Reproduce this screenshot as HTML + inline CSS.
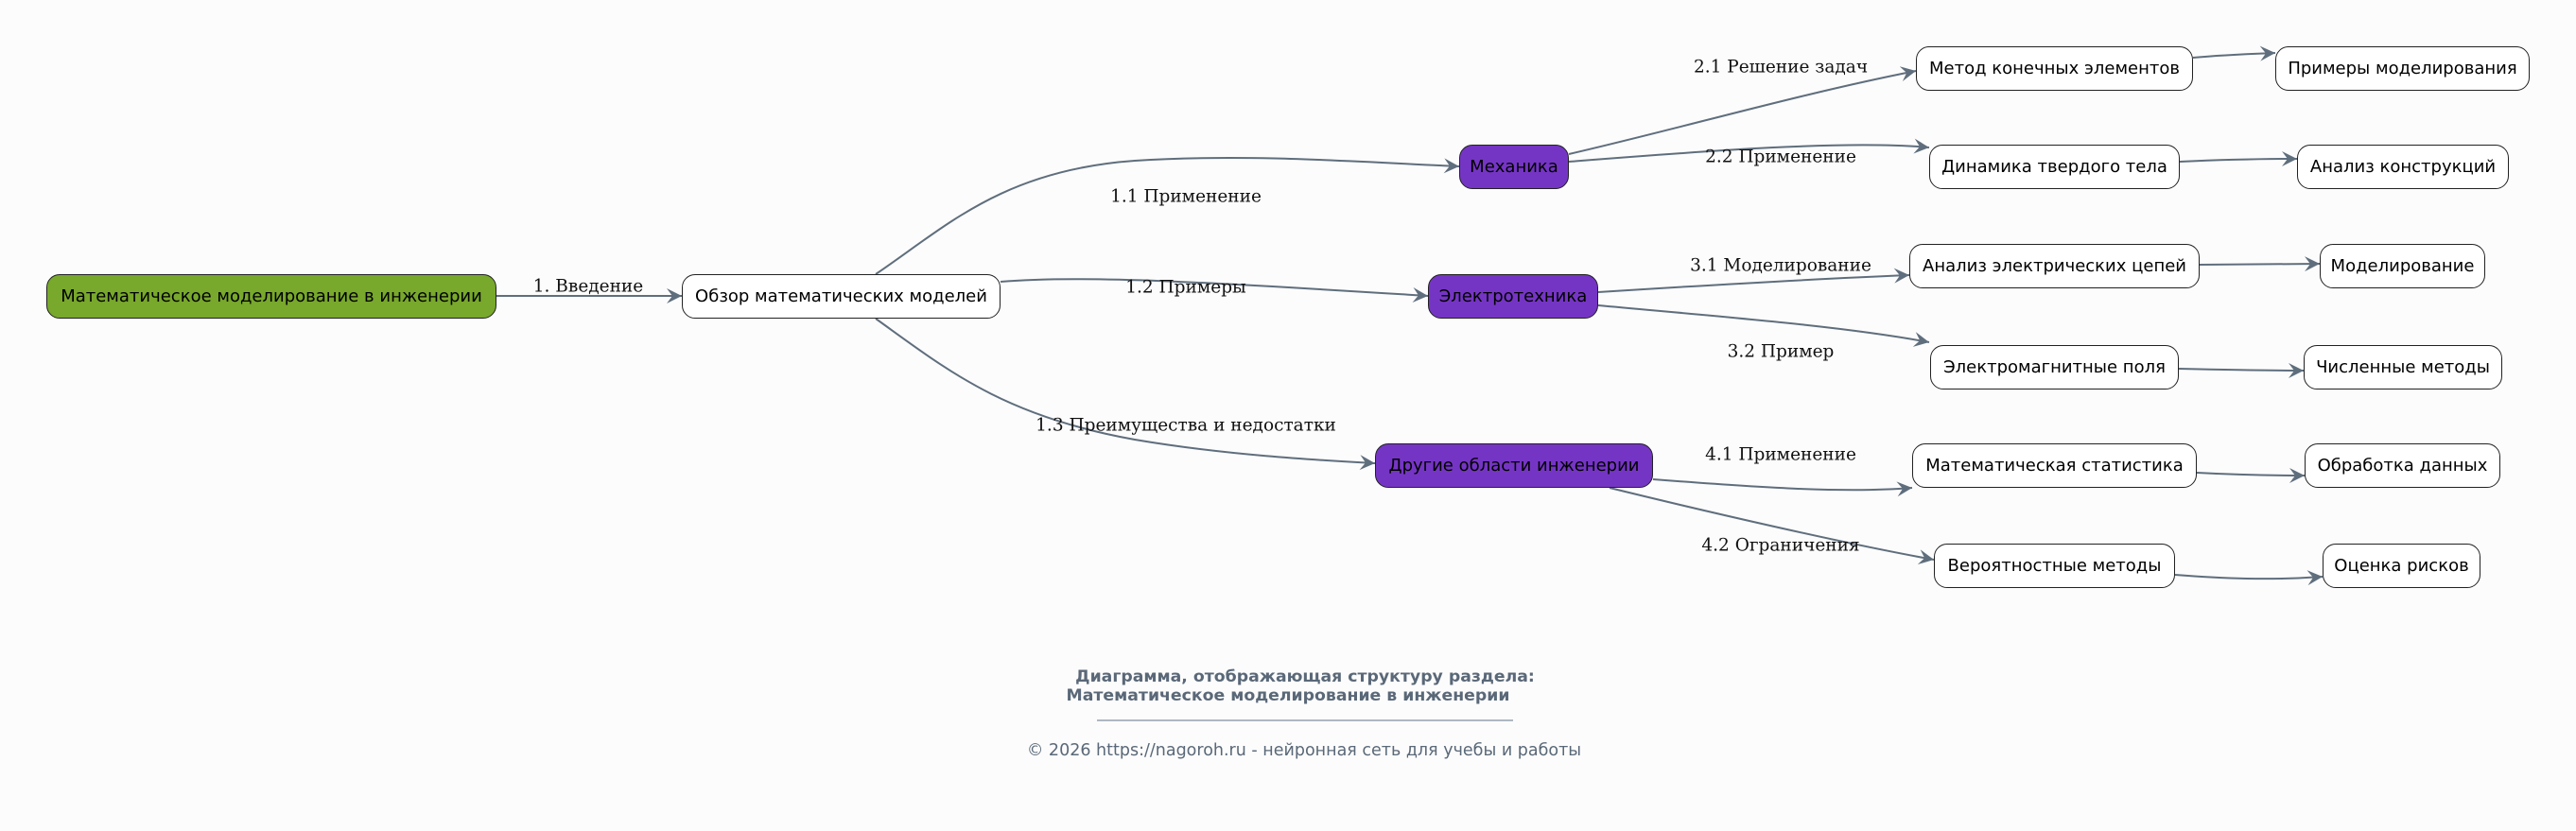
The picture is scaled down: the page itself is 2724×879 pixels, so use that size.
<!DOCTYPE html>
<html><head><meta charset="utf-8"><style>
html,body{margin:0;padding:0;background:#fcfcfc;}
body{width:2724px;height:879px;position:relative;overflow:hidden;font-family:"DejaVu Sans","Liberation Sans",sans-serif;}
.n{position:absolute;box-sizing:border-box;border:1.6px solid #222;border-radius:14px;background:#fff;display:flex;align-items:center;justify-content:center;font-size:18px;color:#000;white-space:nowrap;}
.g{background:#78a82c;}
.p{background:#7535c4;}
.l{position:absolute;font-family:"DejaVu Serif","Liberation Serif",serif;font-size:18.5px;color:#111;white-space:nowrap;transform:translate(-50%,-50%);}
.t{position:absolute;color:#5a6878;white-space:nowrap;transform:translateX(-50%);}
</style></head><body>
<svg width="2724" height="879" style="position:absolute;left:0;top:0">
<defs><marker id="a" markerWidth="20" markerHeight="20" refX="18" refY="8" orient="auto" markerUnits="userSpaceOnUse">
<path d="M2,0 L18,8 L2,16 L8,8 Z" fill="#5f6e7d"/></marker></defs>
<g fill="none" stroke="#5f6e7d" stroke-width="2" marker-end="url(#a)">
<path d="M525,313 L721,313"/>
<path d="M926,290 C1000,240 1060,180 1200,170 C1320,162 1450,172 1543,176"/>
<path d="M1058,298 C1150,290 1300,300 1510,313"/>
<path d="M926,337 C1000,390 1060,440 1200,465 C1300,482 1400,487 1454,490"/>
<path d="M1659,163 C1780,135 1900,100 2026,75"/>
<path d="M1659,171 C1800,160 1950,148 2040,156"/>
<path d="M1690,309 C1800,302 1920,295 2019,291"/>
<path d="M1690,323 C1820,335 1950,345 2040,362"/>
<path d="M1748,507 C1850,515 1950,522 2022,516"/>
<path d="M1702,516 C1800,540 1950,575 2045,592"/>
<path d="M2319,61 C2350,58 2380,57 2406,56"/>
<path d="M2305,171 C2350,169 2400,168 2429,168"/>
<path d="M2326,280 L2453,279"/>
<path d="M2304,390 C2350,391 2400,392 2436,392"/>
<path d="M2323,500 C2360,502 2400,503 2437,503"/>
<path d="M2300,608 C2350,612 2400,614 2456,610"/>
</g>
<line x1="1160" y1="762" x2="1600" y2="762" stroke="#8090a0" stroke-width="1.2"/>
</svg>
<div class="n g" style="left:49px;top:290px;width:476px;height:47px">Математическое моделирование в инженерии</div>
<div class="n" style="left:721px;top:290px;width:337px;height:47px">Обзор математических моделей</div>
<div class="n p" style="left:1543px;top:153px;width:116px;height:47px">Механика</div>
<div class="n p" style="left:1510px;top:290px;width:180px;height:47px">Электротехника</div>
<div class="n p" style="left:1454px;top:469px;width:294px;height:47px">Другие области инженерии</div>
<div class="n" style="left:2026px;top:49px;width:293px;height:47px">Метод конечных элементов</div>
<div class="n" style="left:2040px;top:153px;width:265px;height:47px">Динамика твердого тела</div>
<div class="n" style="left:2019px;top:258px;width:307px;height:47px">Анализ электрических цепей</div>
<div class="n" style="left:2041px;top:365px;width:263px;height:47px">Электромагнитные поля</div>
<div class="n" style="left:2022px;top:469px;width:301px;height:47px">Математическая статистика</div>
<div class="n" style="left:2045px;top:575px;width:255px;height:47px">Вероятностные методы</div>
<div class="n" style="left:2406px;top:49px;width:269px;height:47px">Примеры моделирования</div>
<div class="n" style="left:2429px;top:153px;width:224px;height:47px">Анализ конструкций</div>
<div class="n" style="left:2453px;top:258px;width:175px;height:47px">Моделирование</div>
<div class="n" style="left:2436px;top:365px;width:210px;height:47px">Численные методы</div>
<div class="n" style="left:2437px;top:469px;width:207px;height:47px">Обработка данных</div>
<div class="n" style="left:2456px;top:575px;width:167px;height:47px">Оценка рисков</div>
<div class="l" style="left:622px;top:303px">1. Введение</div>
<div class="l" style="left:1254px;top:208px">1.1 Применение</div>
<div class="l" style="left:1254px;top:304px">1.2 Примеры</div>
<div class="l" style="left:1254px;top:450px">1.3 Преимущества и недостатки</div>
<div class="l" style="left:1883px;top:71px">2.1 Решение задач</div>
<div class="l" style="left:1883px;top:166px">2.2 Применение</div>
<div class="l" style="left:1883px;top:281px">3.1 Моделирование</div>
<div class="l" style="left:1883px;top:372px">3.2 Пример</div>
<div class="l" style="left:1883px;top:481px">4.1 Применение</div>
<div class="l" style="left:1883px;top:577px">4.2 Ограничения</div>
<div class="t" style="left:1380px;top:706px;font-weight:bold;font-size:17.3px;line-height:20px">Диаграмма, отображающая структуру раздела:</div>
<div class="t" style="left:1362px;top:726px;font-weight:bold;font-size:17.3px;line-height:20px">Математическое моделирование в инженерии</div>
<div class="t" style="left:1379px;top:784px;font-size:17.5px">© 2026 https://nagoroh.ru - нейронная сеть для учебы и работы</div>
</body></html>
